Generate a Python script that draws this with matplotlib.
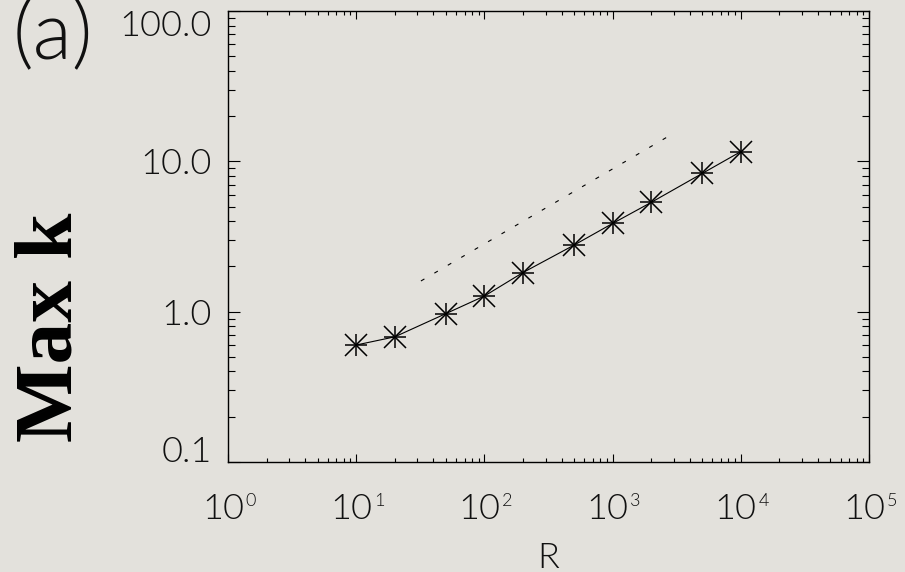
import matplotlib
matplotlib.use("Agg")
import matplotlib.pyplot as plt
from matplotlib.ticker import FixedLocator, LogLocator, NullFormatter

# wavenumber maximum against R
R = [10, 20, 50, 100, 200, 500, 1000, 2000, 5000, 10000]
max_k = [0.60, 0.68, 0.97, 1.27, 1.82, 2.77, 3.86, 5.33, 8.3, 11.6]

# R^(1/2) guide line
ref_r = [32, 2700]
ref_k = [1.6, 14.6]

x_exponents = [0, 1, 2, 3, 4, 5]
y_ticks = [0.1, 1.0, 10.0, 100.0]
y_labels = ["0.1", "1.0", "10.0", "100.0"]

bg = "#e3e1dc"
ink = "#111111"
thin = ["Lato", "DejaVu Sans"]
plt.rcParams["lines.scale_dashes"] = False

fig = plt.figure(figsize=(9.05, 5.72), dpi=100, facecolor=bg)
ax = fig.add_axes([0.2519, 0.1923, 0.7083, 0.7885])
ax.set_facecolor(bg)

ax.plot(R, max_k, color="black", lw=0.8)
ax.plot(R, max_k, ls="none", marker="+", ms=16.5, mew=1.1, color="black")
ax.plot(R, max_k, ls="none", marker="x", ms=16.5, mew=1.1, color="black")
ax.plot(ref_r, ref_k, color="black", lw=0.8, linestyle=(0, (2.9, 8.3)))

ax.set_xscale("log")
ax.set_yscale("log")
ax.set_xlim(1, 1e5)
ax.set_ylim(0.1, 100)

for s in ax.spines.values():
    s.set_linewidth(1.0)

ax.xaxis.set_major_locator(FixedLocator([10.0 ** e for e in x_exponents]))
ax.xaxis.set_minor_locator(LogLocator(base=10, subs=range(2, 10), numticks=20))
ax.yaxis.set_major_locator(FixedLocator(y_ticks))
ax.yaxis.set_minor_locator(LogLocator(base=10, subs=range(2, 10), numticks=20))
for a in (ax.xaxis, ax.yaxis):
    a.set_major_formatter(NullFormatter())
    a.set_minor_formatter(NullFormatter())

ax.tick_params(axis="both", which="both", direction="in", top=True, right=True, width=0.8)
ax.tick_params(axis="x", which="major", length=6.0)
ax.tick_params(axis="x", which="minor", length=3.0)
ax.tick_params(axis="y", which="major", length=8.6)
ax.tick_params(axis="y", which="minor", length=4.8)

label_kw = dict(family=thin, fontweight=300, color=ink)

# y labels: the end ones sit inside the axis range
y_align = ["baseline", "center_baseline", "center_baseline", "top"]
y_shift = [0, 0, 0, 1]
for v, txt, va, dy in zip(y_ticks, y_labels, y_align, y_shift):
    ax.annotate(txt, xy=(0, v), xycoords=("axes fraction", "data"),
                xytext=(-11.5, dy), textcoords="offset points",
                ha="right", va=va, fontsize=26, **label_kw)

# x tick labels written as 10 with a small raised exponent
for e in x_exponents:
    ax.annotate("10", xy=(10.0 ** e, 0), xycoords=("data", "axes fraction"),
                xytext=(11.5, -41), textcoords="offset points",
                ha="right", va="baseline", fontsize=26, **label_kw)
    ax.annotate(str(e), xy=(10.0 ** e, 0), xycoords=("data", "axes fraction"),
                xytext=(12.8, -32), textcoords="offset points",
                ha="left", va="baseline", fontsize=13, **label_kw)

ax.annotate("R", xy=(0.5, 0), xycoords="axes fraction", xytext=(0, -76),
            textcoords="offset points", ha="center", va="baseline",
            fontsize=26, **label_kw)

fig.text(0.057, 0.428, "Max k", rotation=90, ha="center", va="center",
         fontsize=60, family=["Liberation Serif", "DejaVu Serif"], fontweight="bold")
fig.text(0.014, 1.0, "(a)", ha="left", va="top", fontsize=58, **label_kw)

fig.savefig("out.png", dpi=100, facecolor=bg)
